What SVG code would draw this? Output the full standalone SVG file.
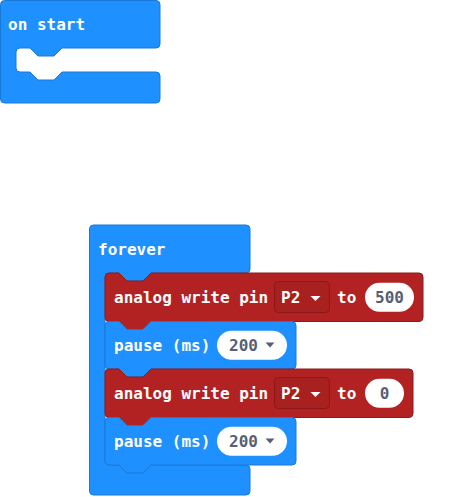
<svg xmlns="http://www.w3.org/2000/svg" width="474" height="497" viewBox="0 0 474 497">
<style>
.blue{fill:#1E90FF;stroke:#1A78D6;stroke-width:1}
.red{fill:#B22222;stroke:#8C1A1A;stroke-width:1}
.t{font-family:"DejaVu Sans Mono","Liberation Mono",monospace;font-weight:bold;font-size:16px;fill:#ffffff}
.v{font-family:"DejaVu Sans Mono","Liberation Mono",monospace;font-weight:bold;font-size:16px;fill:#575E75}
.dd{fill:#A82020;stroke:#8A1818;stroke-width:1}
.oval{fill:#ffffff}
.triw{fill:#ffffff}
.trig{fill:#575E75}
</style>
<rect width="474" height="497" fill="#ffffff"/>
<g id="on-start">
<path class="blue" d="M0.5,4.5 Q0.5,0.5 4.5,0.5 H156 Q160,0.5 160,4.5 V44 Q160,48 156,48 H62 L54,56 H38 L30,48 H20 Q16,48 16,52 V68 Q16,72 20,72 H30 L38,80 H54 L62,72 H156 Q160,72 160,76 V99 Q160,103 156,103 H4.5 Q0.5,103 0.5,99 Z"/>
<text class="t" x="8" y="30">on start</text>
</g>
<g id="forever">
<path class="blue" d="M89.5,229 Q89.5,225 93.5,225 H246 Q250,225 250,229 V269 Q250,273 246,273 H151 L143,281 H127 L119,273 H109 Q105,273 105,277 V461 Q105,465 109,465 H246 Q250,465 250,469 V491 Q250,495 246,495 H93.5 Q89.5,495 89.5,491 Z"/>
<text class="t" x="98" y="255">forever</text>
</g>
<g id="analog-write-1">
<path class="red" d="M105,277 Q105,273 109,273 H119 L127,281 H143 L151,273 H419 Q423,273 423,277 V317.5 Q423,321.5 419,321.5 H151 L143,329.5 H127 L119,321.5 H109 Q105,321.5 105,317.5 Z"/>
<text class="t" x="114" y="303">analog write pin</text>
<rect class="dd" x="274.5" y="281.5" width="55" height="31" rx="4"/>
<text class="t" x="281" y="303">P2</text>
<polygon class="triw" points="310.5,296 320.5,296 315.5,301"/>
<text class="t" x="337" y="303">to</text>
<rect class="oval" x="365" y="282.75" width="49" height="29" rx="14.5"/>
<text class="v" x="389.5" y="303" text-anchor="middle">500</text>
</g>
<g id="pause-1">
<path class="blue" d="M105,325.5 Q105,321.5 109,321.5 H119 L127,329.5 H143 L151,321.5 H292 Q296,321.5 296,325.5 V365 Q296,369 292,369 H151 L143,377 H127 L119,369 H109 Q105,369 105,365 Z"/>
<text class="t" x="114" y="351">pause (ms)</text>
<rect class="oval" x="217" y="330.75" width="70" height="29" rx="14.5"/>
<text class="v" x="229" y="351">200</text>
<polygon class="trig" points="265.5,342.5 274.5,342.5 270,347.5"/>
</g>
<g id="analog-write-2">
<path class="red" d="M105,373 Q105,369 109,369 H119 L127,377 H143 L151,369 H409 Q413,369 413,373 V413.5 Q413,417.5 409,417.5 H151 L143,425.5 H127 L119,417.5 H109 Q105,417.5 105,413.5 Z"/>
<text class="t" x="114" y="399">analog write pin</text>
<rect class="dd" x="274.5" y="377.5" width="55" height="31" rx="4"/>
<text class="t" x="281" y="399">P2</text>
<polygon class="triw" points="310.5,392 320.5,392 315.5,397"/>
<text class="t" x="337" y="399">to</text>
<rect class="oval" x="365" y="378.75" width="39" height="29" rx="14.5"/>
<text class="v" x="384.5" y="399" text-anchor="middle">0</text>
</g>
<g id="pause-2">
<path class="blue" d="M105,421.5 Q105,417.5 109,417.5 H119 L127,425.5 H143 L151,417.5 H292 Q296,417.5 296,421.5 V461 Q296,465 292,465 H151 L143,473 H127 L119,465 H109 Q105,465 105,461 Z"/>
<text class="t" x="114" y="447">pause (ms)</text>
<rect class="oval" x="217" y="426.75" width="70" height="29" rx="14.5"/>
<text class="v" x="229" y="447">200</text>
<polygon class="trig" points="265.5,438.5 274.5,438.5 270,443.5"/>
</g>
<g id="connectors"></g>
</svg>
